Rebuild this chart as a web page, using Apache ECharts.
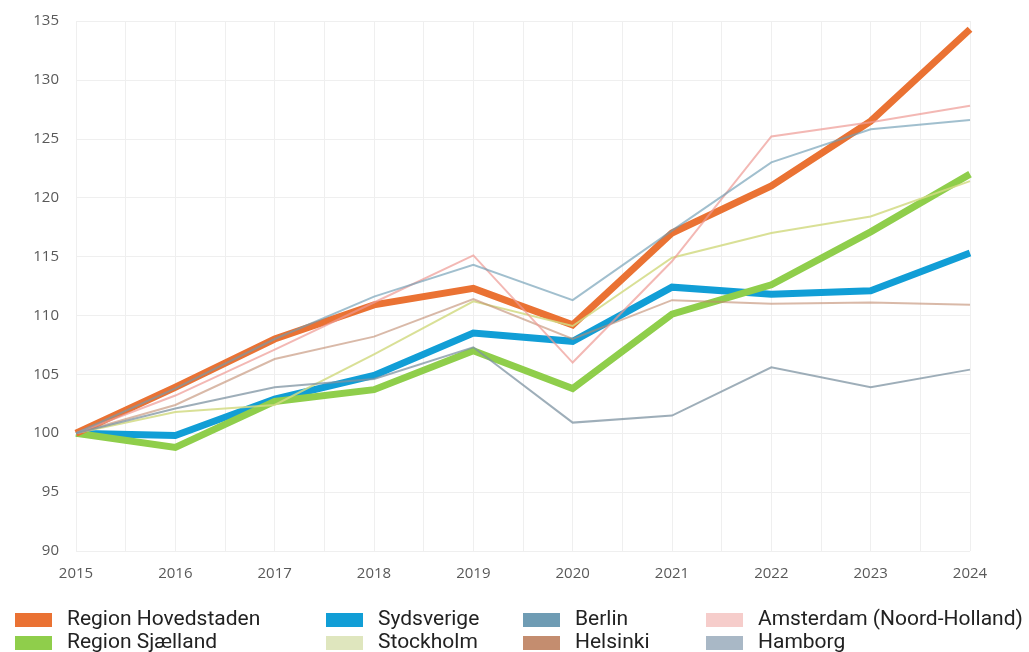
<!DOCTYPE html>
<html>
<head>
<meta charset="utf-8">
<script src="https://cdn.jsdelivr.net/npm/echarts@6/dist/echarts.min.js"></script>
<style>
  html, body { margin: 0; padding: 0; background: #fff; }
  #chart { width: 1029px; height: 652px; }
</style>
</head>
<body>
<div id="chart"></div>
<script>
var years = [2015, 2016, 2017, 2018, 2019, 2020, 2021, 2022, 2023, 2024];

var hovedstaden = [100, 103.9, 108.0, 110.9, 112.3, 109.2, 117.0, 121.0, 126.5, 134.3];
var sjaelland = [100, 98.8, 102.7, 103.7, 107.0, 103.8, 110.1, 112.6, 117.1, 122.0];
var sydsverige = [100, 99.8, 102.9, 104.9, 108.5, 107.8, 112.4, 111.8, 112.1, 115.3];
var stockholm = [100, 101.8, 102.4, 106.7, 111.2, 109.1, 114.9, 117.0, 118.4, 121.4];
var berlin = [100, 103.8, 108.0, 111.6, 114.3, 111.3, 117.2, 123.0, 125.8, 126.6];
var helsinki = [100, 102.4, 106.3, 108.2, 111.4, 108.0, 111.3, 111.0, 111.1, 110.9];
var amsterdam = [100, 103.2, 107.1, 111.1, 115.1, 106.0, 114.6, 125.2, 126.4, 127.8];
var hamborg = [100, 102.1, 103.9, 104.6, 107.3, 100.9, 101.5, 105.6, 103.9, 105.4];

function pairs(vals) {
  return years.map(function (y, i) { return [y, vals[i]]; });
}

// thick regional lines first, thin city lines drawn on top
function line(name, vals, color, legendColor, width, opacity) {
  return {
    name: name,
    type: "line",
    data: pairs(vals),
    showSymbol: false,
    symbol: "none",
    color: legendColor,
    lineStyle: { color: color, width: width, opacity: opacity, join: "miter" },
    emphasis: { disabled: true }
  };
}

var series = [
  line("Sydsverige", sydsverige, "#119ed6", "#119ed6", 7, 1),
  line("Region Sjælland", sjaelland, "#8fce4b", "#8fce4b", 7, 1),
  line("Region Hovedstaden", hovedstaden, "#ea7233", "#ea7233", 7, 1),
  line("Stockholm", stockholm, "#d2da84", "#dfe6be", 2, 0.85),
  line("Helsinki", helsinki, "#c08a6e", "#c48d6f", 2, 0.6),
  line("Amsterdam (Noord-Holland)", amsterdam, "#ee9a94", "#f6cdcb", 2, 0.7),
  line("Berlin", berlin, "#6f9cb4", "#6f9cb4", 2, 0.65),
  line("Hamborg", hamborg, "#7d93a2", "#a9b8c6", 2, 0.75)
];

var legendFont = "Roboto, 'Noto Sans', sans-serif";
function legendCol(left, names) {
  return {
    left: left,
    top: 609,
    height: 120,
    orient: "vertical",
    padding: 0,
    itemGap: 1,
    itemWidth: 37,
    itemHeight: 14,
    icon: "rect",
    selectedMode: false,
    data: names,
    textStyle: { fontFamily: legendFont, fontSize: 21, color: "#222", padding: [0, 0, 0, 10], lineHeight: 22 }
  };
}

var tickFont = { color: "#595959", fontFamily: "'Open Sans', sans-serif", fontSize: 15 };

var chart = echarts.init(document.getElementById("chart"));
chart.setOption({
  animation: false,
  backgroundColor: "#fff",
  grid: { left: 76, right: 59, top: 21, bottom: 101, containLabel: false },
  legend: [
    legendCol(15, ["Region Hovedstaden", "Region Sjælland"]),
    legendCol(326, ["Sydsverige", "Stockholm"]),
    legendCol(523, ["Berlin", "Helsinki"]),
    legendCol(706, ["Amsterdam (Noord-Holland)", "Hamborg"])
  ],
  xAxis: {
    type: "value",
    min: 2015,
    max: 2024,
    interval: 0.5,
    axisLine: { show: false },
    axisTick: { show: false },
    splitLine: { show: true, lineStyle: { color: "#efefef", width: 1 } },
    axisLabel: Object.assign({
      margin: 15,
      showMinLabel: true,
      showMaxLabel: true,
      formatter: function (v) { return v % 1 === 0 ? String(v) : ""; }
    }, tickFont)
  },
  yAxis: {
    type: "value",
    min: 90,
    max: 135,
    interval: 5,
    axisLine: { show: false },
    axisTick: { show: false },
    splitLine: { show: true, lineStyle: { color: "#efefef", width: 1 } },
    axisLabel: Object.assign({ margin: 17 }, tickFont)
  },
  series: series
});
</script>
</body>
</html>
